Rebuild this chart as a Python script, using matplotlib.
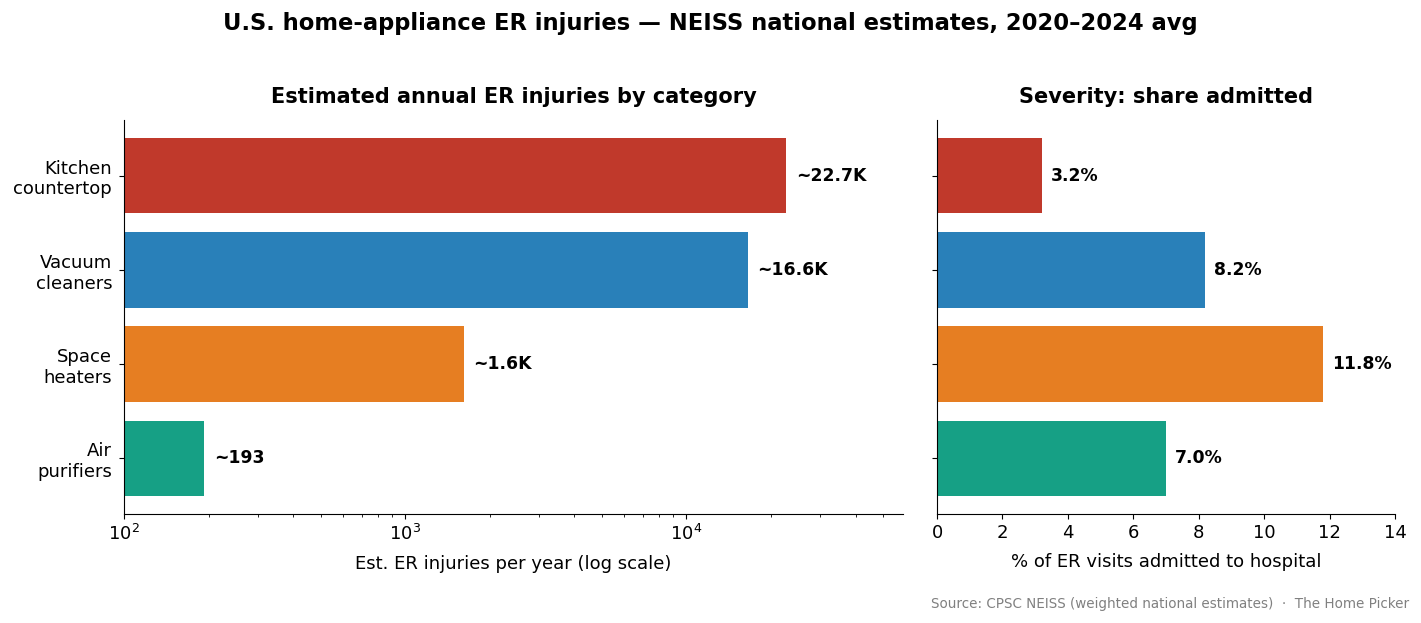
import matplotlib
matplotlib.use("Agg")
import matplotlib.pyplot as plt

plt.rcParams["font.family"] = ["DejaVu Sans"]

categories = ["Kitchen\ncountertop", "Vacuum\ncleaners", "Space\nheaters", "Air\npurifiers"]
injuries = [22700, 16600, 1620, 193]
injury_labels = ["~22.7K", "~16.6K", "~1.6K", "~193"]
admitted_pct = [3.2, 8.2, 11.8, 7.0]
colors = ["#c0392b", "#2980b9", "#e67e22", "#16a085"]

fig = plt.figure(figsize=(14.21, 6.23), dpi=100)
ax = fig.add_axes([0.0873, 0.1750, 0.5482, 0.6324])
ax2 = fig.add_axes([0.6594, 0.1750, 0.3223, 0.6324])

ypos = list(range(len(categories)))

# left: log scale counts
ax.barh(ypos, injuries, color=colors, height=0.8)
ax.set_xscale("log")
ax.set_xlim(100, max(injuries) * 2.6)
ax.set_yticks(ypos)
ax.set_yticklabels(categories, fontsize=13)
ax.tick_params(axis="y", pad=5)
ax.invert_yaxis()
for y, v, lab in zip(ypos, injuries, injury_labels):
    ax.text(v * 1.08, y, lab, va="center", ha="left", fontsize=12.4, fontweight="bold")
ax.set_xlabel("Est. ER injuries per year (log scale)", fontsize=13, labelpad=8)
ax.set_title("Estimated annual ER injuries by category", fontsize=15, fontweight="bold", pad=12)
ax.tick_params(axis="x", labelsize=13)

# right: share admitted
ax2.barh(ypos, admitted_pct, color=colors, height=0.8)
ax2.set_xlim(0, 14)
ax2.set_yticks(ypos)
ax2.set_yticklabels([])
ax2.invert_yaxis()
for y, v in zip(ypos, admitted_pct):
    ax2.text(v + 0.27, y, f"{v:.1f}%", va="center", ha="left", fontsize=12.4, fontweight="bold")
ax2.set_xlabel("% of ER visits admitted to hospital", fontsize=13, labelpad=8)
ax2.set_title("Severity: share admitted", fontsize=15, fontweight="bold", pad=12)
ax2.tick_params(axis="x", labelsize=13)

for a in (ax, ax2):
    a.spines["top"].set_visible(False)
    a.spines["right"].set_visible(False)

fig.suptitle("U.S. home-appliance ER injuries \u2014 NEISS national estimates, 2020\u20132024 avg",
             fontsize=16.3, fontweight="bold", y=0.9615, va="center")
fig.text(0.9916, 0.0305, "Source: CPSC NEISS (weighted national estimates)  \u00b7  The Home Picker",
         ha="right", va="center", fontsize=9.75, color="gray")

fig.savefig("out.png", dpi=100)
